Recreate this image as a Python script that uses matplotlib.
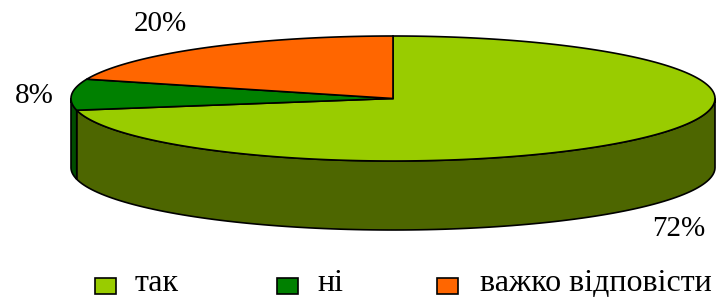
import numpy as np
import matplotlib
matplotlib.use("Agg")
import matplotlib.pyplot as plt
from matplotlib.patches import Polygon, Rectangle

categories = ["так", "ні", "важко відповісти"]
values = [72, 8, 20]
labels = ["72%", "8%", "20%"]
top_colors = ["#99CC00", "#008000", "#FF6600"]
side_colors = ["#4D6600", "#004D00", "#993D00"]

W, H = 725, 297
fig = plt.figure(figsize=(W / 100, H / 100), dpi=100)
ax = fig.add_axes([0, 0, 1, 1])
ax.set_xlim(0, W)
ax.set_ylim(H, 0)
ax.axis("off")

cx, cy, a, b, depth = 393, 98.5, 322, 62.5, 69

def pt(t, dz=0.0):
    r = np.radians(t)
    return cx + a * np.cos(r), cy - b * np.sin(r) + dz

total = float(sum(values))
start = 90.0
ranges = []
for v in values:
    sweep = 360.0 * v / total
    ranges.append((start - sweep, start))
    start -= sweep

# side walls (front half only)
for (lo, hi), col in zip(ranges, side_colors):
    for flo, fhi in [(-180, 0), (180, 360)]:
        s, e = max(lo, flo), min(hi, fhi)
        if e - s <= 0:
            continue
        ts = np.linspace(s, e, 120)
        upper = [pt(t) for t in ts]
        lower = [pt(t, depth) for t in ts[::-1]]
        ax.add_patch(Polygon(upper + lower, closed=True, facecolor=col,
                             edgecolor="black", linewidth=1.2, zorder=1))

# top faces
for (lo, hi), col in zip(ranges, top_colors):
    ts = np.linspace(hi, lo, 300)
    pts = [(cx, cy)] + [pt(t) for t in ts]
    ax.add_patch(Polygon(pts, closed=True, facecolor=col,
                         edgecolor="black", linewidth=1.2, zorder=2,
                         joinstyle="miter"))

font = "Liberation Serif"
label_pos = [(679, 229), (34, 96), (160, 24)]
for lab, (x, y) in zip(labels, label_pos):
    ax.text(x, y, lab, fontsize=21, family=font, ha="center", va="center")

# legend
sq_x = [95, 277, 437]
txt_x = [135, 317, 480]
for c, col, sx, tx in zip(categories, top_colors, sq_x, txt_x):
    ax.add_patch(Rectangle((sx, 278), 21, 16, facecolor=col,
                           edgecolor="black", linewidth=1.2))
    ax.text(tx, 291, c, fontsize=23, family=font, ha="left", va="baseline")

fig.savefig("out.png", dpi=100)
